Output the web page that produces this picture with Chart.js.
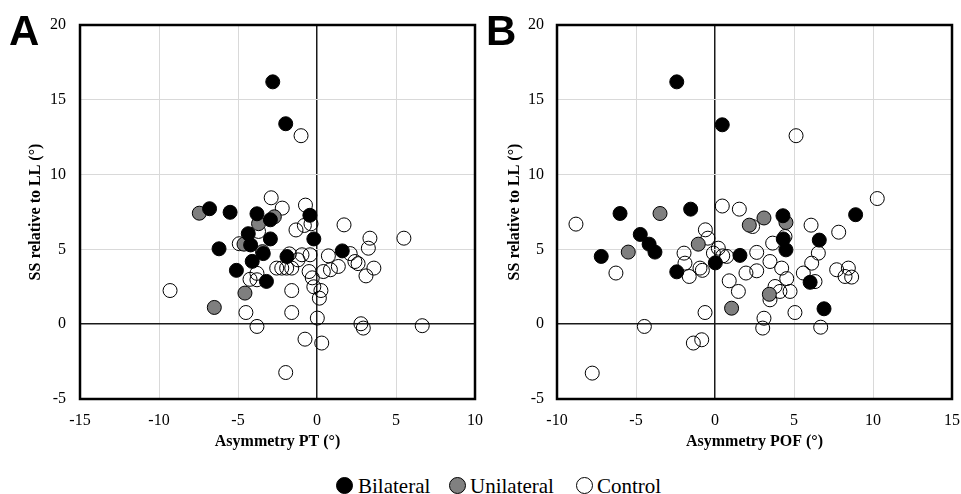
<!DOCTYPE html>
<html><head><meta charset="utf-8">
<script src="https://cdn.jsdelivr.net/npm/chart.js@4"></script>
<style>
html,body{margin:0;padding:0;background:#fff}
body{width:961px;height:494px;overflow:hidden;position:relative;font-family:"Liberation Serif","Times New Roman",serif}
canvas{position:absolute;top:0}
#ca{left:0}
#cb{left:480px}
.panel{position:absolute;font-family:"Liberation Sans",Arial,sans-serif;font-weight:bold;font-size:42px;line-height:1;color:#000}
.dot{position:absolute;width:17px;height:17px;border:1px solid #000;border-radius:50%;box-sizing:border-box}
.lt{position:absolute;font-size:21px;line-height:21px;color:#000;white-space:nowrap}
</style></head>
<body>
<canvas id="ca" width="492" height="460"></canvas>
<canvas id="cb" width="481" height="460"></canvas>
<div class="panel" style="left:9px;top:10px">A</div>
<div class="panel" style="left:486px;top:10px">B</div>
<div class="dot" style="left:336px;top:477px;background:#000"></div><div class="lt" style="left:358px;top:476px">Bilateral</div>
<div class="dot" style="left:449px;top:477px;background:#808080"></div><div class="lt" style="left:470px;top:476px">Unilateral</div>
<div class="dot" style="left:576px;top:477px;background:#fff"></div><div class="lt" style="left:597px;top:476px">Control</div>
<script>
// ---- tick labels ----
const yTicks = [-5, 0, 5, 10, 15, 20];
const xTicksA = [-15, -10, -5, 0, 5, 10];
const xTicksB = [-10, -5, 0, 5, 10, 15];
const seriesNames = ['Bilateral', 'Unilateral', 'Control'];
const yTitle = 'SS relative to LL (°)';
const xTitleA = 'Asymmetry PT (°)';
const xTitleB = 'Asymmetry POF (°)';

// ---- Panel A: Asymmetry PT ----
const aBilX = [-2.8,-1.98,-6.8,-5.5,-3.8,-2.95,-0.45,-4.35,-2.95,-0.2,-6.2,1.6,-4.2,-3.4,-1.9,-5.1,-4.1,-3.2];
const aBilY = [16.2,13.4,7.72,7.48,7.38,6.98,7.28,6.05,5.7,5.7,5.04,4.9,5.3,4.72,4.52,3.6,4.2,2.86];
const aUniX = [-7.45,-2.7,-3.7,-4.62,-4.56,-6.5,-3.45];
const aUniY = [7.42,7.18,6.72,5.35,2.08,1.12,4.85];
const aConX = [-1.01,-2.9,-2.2,-0.73,-1.33,-0.8,-0.38,1.71,3.35,5.5,-4.92,-9.3,-1.75,-0.95,-0.44,0.72,2.1,3.25,2.4,2.6,3.6,3.1,1.35,0.85,0.4,-0.5,-0.3,-0.2,0.25,0.15,0.02,-1.6,-1.6,-4.5,-3.8,-0.76,0.3,-1.98,2.78,2.93,6.66,-4.24,-3.8,-2.55,-2.23,-1.92,-1.6,-3.7,-1.2,-3.8];
const aConY = [12.6,8.45,7.76,7.96,6.3,6.6,6.71,6.64,5.75,5.75,5.38,2.25,4.7,4.64,4.64,4.57,4.72,5.08,4.19,4.05,3.75,3.23,3.86,3.64,3.52,3.52,3.1,2.5,2.25,1.74,0.41,2.25,0.78,0.78,-0.15,-1.0,-1.26,-3.23,0.03,-0.26,-0.1,3.0,3.4,3.75,3.75,3.75,3.75,6.2,4.3,2.97];

// ---- Panel B: Asymmetry POF ----
const bBilX = [-2.42,0.46,-6.01,-1.54,4.3,8.9,-4.73,-4.17,4.32,6.6,-3.8,-7.2,-2.42,0.02,1.58,4.49,6.02,6.9];
const bBilY = [16.2,13.33,7.4,7.69,7.25,7.32,6.0,5.35,5.7,5.62,4.82,4.53,3.5,4.1,4.6,4.97,2.8,1.03];
const bUniX = [-3.48,3.1,2.17,4.49,-1.06,-5.49,3.44,1.05];
const bUniY = [7.4,7.1,6.62,6.8,5.35,4.82,2.0,1.07];
const bConX = [-8.8,5.13,10.27,0.46,1.54,6.08,7.83,-0.61,-0.45,2.38,3.65,4.43,6.54,2.64,0.21,-6.27,-1.96,-1.9,-1.63,-0.95,-0.8,-0.1,0.49,0.74,0.9,1.48,1.96,2.64,3.48,4.22,4.54,3.8,4.11,4.75,5.59,6.12,6.33,7.7,8.44,8.23,8.65,-0.63,5.06,3.1,3.02,6.69,-4.47,-1.37,-0.84,-7.77,3.48];
const bConY = [6.69,12.6,8.4,7.9,7.69,6.62,6.15,6.31,5.75,6.53,5.42,5.86,4.75,4.8,5.08,3.42,4.75,4.08,3.19,3.75,3.6,4.75,4.57,4.53,2.9,2.19,3.42,3.57,4.19,3.75,3.05,2.52,2.19,2.19,3.42,4.08,2.85,3.64,3.75,3.19,3.15,0.78,0.78,0.4,-0.26,-0.2,-0.15,-1.26,-1.04,-3.27,1.63];

const zip = (xs, ys) => xs.map((x, i) => ({x: x, y: ys[i]}));

const framePlugin = {
  id: 'frame',
  afterDatasetsDraw(chart) {
    const a = chart.chartArea, c = chart.ctx;
    c.save();
    c.strokeStyle = '#000';
    c.lineWidth = 2.5;
    c.strokeRect(a.left, a.top, a.right - a.left, a.bottom - a.top);
    c.restore();
  }
};

function makeChart(id, xTicks, xTitle, bil, uni, con, yW, yTitlePad, yTickPad, rightPad) {
  const gridColor = ctx => (ctx.tick && ctx.tick.value === 0) ? '#1a1a1a' : '#d9d9d9';
  const gridWidth = ctx => (ctx.tick && ctx.tick.value === 0) ? 1.5 : 1;
  const tickFont = {family: '"Liberation Serif", serif', size: 16};
  const titleFont = {family: '"Liberation Serif", serif', size: 16, weight: 'bold'};
  const base = {pointRadius: 7, pointHoverRadius: 7, borderColor: '#000', pointBorderWidth: 1, borderWidth: 1, showLine: false, clip: false};
  return new Chart(document.getElementById(id), {
    type: 'scatter',
    data: {datasets: [
      Object.assign({label: seriesNames[0], data: bil, backgroundColor: '#000', pointBackgroundColor: '#000'}, base),
      Object.assign({label: seriesNames[1], data: uni, backgroundColor: '#7f7f7f', pointBackgroundColor: '#7f7f7f'}, base),
      Object.assign({label: seriesNames[2], data: con, backgroundColor: 'rgba(255,255,255,0)', pointBackgroundColor: 'rgba(255,255,255,0)'}, base)
    ]},
    options: {
      responsive: false, animation: false, devicePixelRatio: 1,
      layout: {autoPadding: false, padding: {top: 25, right: rightPad, left: 0, bottom: 0}},
      plugins: {legend: {display: false}, tooltip: {enabled: false}},
      scales: {
        x: {
          type: 'linear', min: xTicks[0], max: xTicks[xTicks.length - 1],
          afterBuildTicks: s => { s.ticks = xTicks.map(v => ({value: v})); },
          afterFit: s => { s.height = 61; s.paddingLeft = 0; s.paddingRight = 0; },
          grid: {color: gridColor, lineWidth: gridWidth, drawTicks: false},
          border: {display: false},
          ticks: {font: tickFont, color: '#000', padding: 12, maxRotation: 0, autoSkip: false},
          title: {display: true, text: xTitle, font: titleFont, color: '#000', padding: {top: 0, bottom: 9}}
        },
        y: {
          type: 'linear', min: yTicks[0], max: yTicks[yTicks.length - 1],
          afterBuildTicks: s => { s.ticks = yTicks.map(v => ({value: v})); },
          afterFit: s => { s.width = yW; s.paddingTop = 0; s.paddingBottom = 0; },
          grid: {color: gridColor, lineWidth: gridWidth, drawTicks: false},
          border: {display: false},
          ticks: {font: tickFont, color: '#000', padding: yTickPad, autoSkip: false},
          title: {display: true, text: yTitle, font: titleFont, color: '#000', padding: {top: yTitlePad, bottom: 0}}
        }
      }
    },
    plugins: [framePlugin]
  });
}

makeChart('ca', xTicksA, xTitleA, zip(aBilX, aBilY), zip(aUniX, aUniY), zip(aConX, aConY), 80, 26, 14, 17);
makeChart('cb', xTicksB, xTitleB, zip(bBilX, bBilY), zip(bUniX, bUniY), zip(bConX, bConY), 77, 25, 13, 9);
</script>
</body></html>
